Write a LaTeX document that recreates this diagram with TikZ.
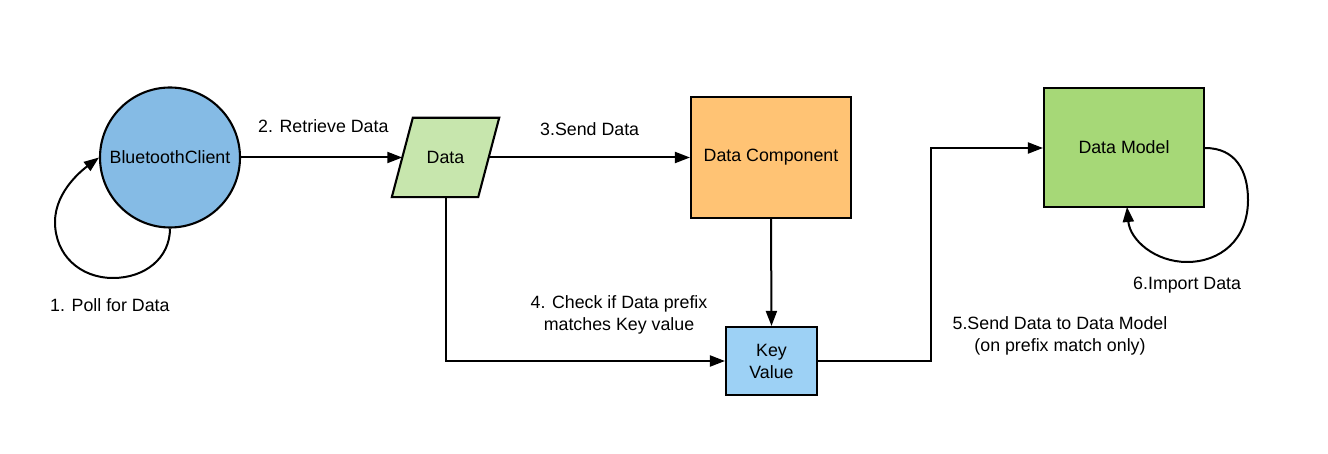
\documentclass[tikz,border=0pt]{standalone}
\usepackage{fontspec}
\setmainfont{Liberation Sans}
\usetikzlibrary{arrows.meta,calc}
\definecolor{cblue}{HTML}{85BBE5}
\definecolor{cgreenl}{HTML}{C7E6AD}
\definecolor{corange}{HTML}{FFC374}
\definecolor{cbluel}{HTML}{9DD1F5}
\definecolor{cgreen}{HTML}{A6D877}
\begin{document}
\begin{tikzpicture}[x=1pt,y=-1pt,
  every node/.style={font=\fontsize{17.8}{22}\selectfont},
  shapebox/.style={draw=black,line width=2.1pt,minimum width=#1,inner sep=0pt},
  conn/.style={line width=2pt,-{Triangle[length=15pt,width=11pt]}},
  lbl/.style={inner sep=0pt,align=center}]
\useasboundingbox (0,0) rectangle (1328,454);
% nodes
\node[shapebox=140pt,circle,fill=cblue] (bc) at (170,157.5) {BluetoothClient};
\node[inner sep=0pt,minimum width=86pt,minimum height=79pt] (data) at (445.5,157.5) {};
\draw[fill=cgreenl,line width=2.1pt,line join=miter] ($(data.south west)+(-10.5,0)$) -- ($(data.north west)+(10.5,0)$) -- ($(data.north east)+(10.5,0)$) -- ($(data.south east)+(-10.5,0)$) -- cycle;
\node at (data.center) {Data};
\node[shapebox=160pt,minimum height=121pt,fill=corange] (dc) at (771,157.5) {Data Component};
\node[shapebox=91pt,minimum height=68pt,fill=cbluel,align=center] (kv) at (771.5,361) {Key\\Value};
\node[shapebox=160pt,minimum height=119pt,fill=cgreen] (dm) at (1124,147.5) {Data Model};
\coordinate (dmin) at (dm.west |- 0,148);
% connectors
\draw[conn] (bc.south) .. controls (170,258) and (145,278) .. (113,278)
  .. controls (80,278) and (55,255) .. (55,222)
  .. controls (55,190) and (85,168) .. (bc.west);
\draw[conn] (bc.east) -- (data.west);
\draw[conn] (data.east) -- (dc.west);
\draw[conn] (dc.south) -- (kv.north);
\draw[conn] (data.south) |- (kv.west);
\draw[conn] (kv.east) -- (931,361) |- (dmin);
\coordinate (dmout) at (dm.east |- 0,148);
\coordinate (dmback) at (1127,207);
\draw[conn] (dmout) .. controls (1235,148) and (1248,170) .. (1248,200)
  .. controls (1248,240) and (1220,262) .. (1187,262)
  .. controls (1155,262) and (1130,240) .. (dmback);
% labels
\node[lbl,anchor=west] (l1) at (50,305) {1. Poll for Data};
\node[lbl,anchor=west] (l2) at (258,126) {2. Retrieve Data};
\node[lbl,anchor=west] (l3) at (540,129) {3.Send Data};
\node[lbl] (l4) at (619,315) {4. Check if Data prefix\\matches Key value};
\node[lbl] (l5) at (1060,336) {5.Send Data to Data Model\\(on prefix match only)};
\node[lbl,anchor=west] (l6) at (1133,285) {6.Import Data};
\end{tikzpicture}
\end{document}
